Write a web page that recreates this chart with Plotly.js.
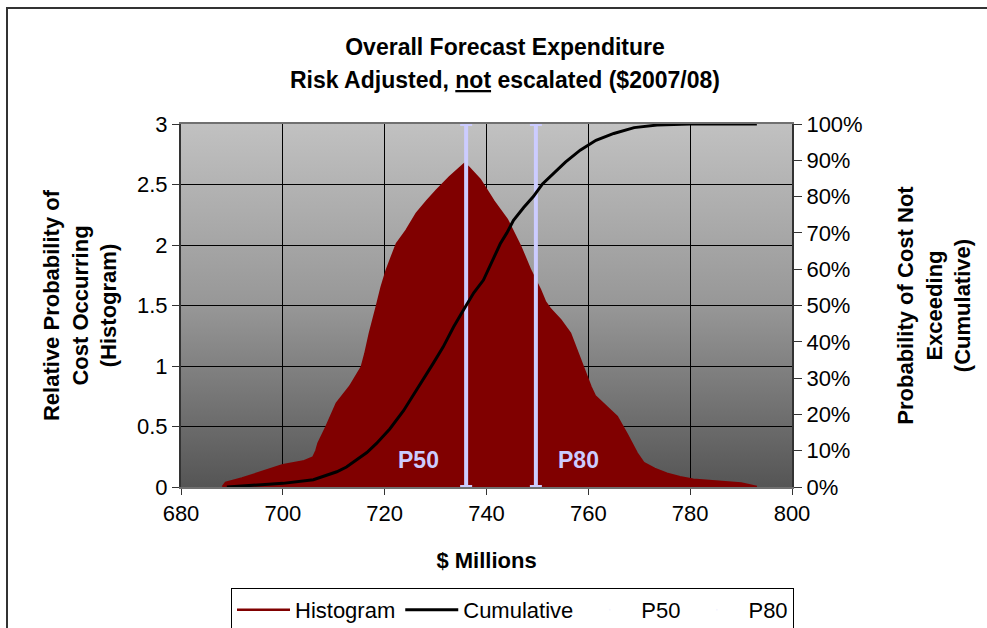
<!DOCTYPE html>
<html><head><meta charset="utf-8">
<script src="https://cdn.plot.ly/plotly-3.0.1.min.js"></script>
<style>html,body{margin:0;padding:0;background:#fff}#chart{width:987px;height:628px}</style>
</head><body><div id="chart"></div>
<script>
// Histogram ($ Millions vs relative probability)
const histX = [688.2,688.8,692,694.2,697.5,700,704,706,706.6,707,708.6,710.6,713.2,715.5,716.2,717.1,718.4,719.4,720.4,722.4,724.3,726.3,728.3,730.2,732.8,734.5,735.7,736.5,738.7,741.4,744.0,746.6,748.6,750.5,751.5,752.5,754.5,756.4,758.4,760.4,761.3,763.5,765.6,767.5,769.5,770.8,773,775.4,778,780.6,784,787.2,790,793.1];
const histY = [0,0.035,0.07,0.10,0.15,0.18,0.21,0.245,0.30,0.36,0.50,0.69,0.83,0.99,1.10,1.27,1.48,1.65,1.79,2.01,2.12,2.26,2.36,2.45,2.56,2.62,2.67,2.64,2.54,2.36,2.21,1.99,1.79,1.63,1.53,1.47,1.38,1.27,1.05,0.83,0.75,0.66,0.58,0.44,0.28,0.20,0.15,0.11,0.08,0.06,0.05,0.035,0.03,0];
// Cumulative probability
const cumX = [689,695,700,706,708,710.6,712.5,714.5,716.5,718.4,721,723.7,725.5,727.6,729.5,731.5,733.5,735.5,737.5,739.4,741,742.7,744,745.3,747.3,749.2,751,753.2,755.5,758.4,761.5,765,769,773.5,780,793.1];
const cumY = [0,0.005,0.01,0.02,0.03,0.042,0.055,0.074,0.095,0.12,0.16,0.21,0.25,0.295,0.34,0.386,0.44,0.488,0.535,0.57,0.62,0.67,0.70,0.735,0.77,0.80,0.835,0.864,0.895,0.928,0.955,0.974,0.99,0.997,1.0,1.0];
// Percentile markers
const pNames = ['P50','P80'];
const pValues = [736.0,749.7];
const pLabelX = [726.6,758.0];
const pLabelY = [0.22,0.22];
const xTicks = [680,700,720,740,760,780,800];

const font = 'Liberation Sans, Arial, sans-serif';
const lav = '#CCCCFF';

const svg = '<svg xmlns="http://www.w3.org/2000/svg" width="10" height="100" preserveAspectRatio="none"><defs><linearGradient id="g" x1="0" y1="0" x2="0" y2="1"><stop offset="0" stop-color="#C1C1C1"/><stop offset="0.5" stop-color="#979797"/><stop offset="1" stop-color="#555555"/></linearGradient></defs><rect width="10" height="100" fill="url(#g)"/></svg>';
const grad = 'data:image/svg+xml;charset=utf-8,' + encodeURIComponent(svg);

const traces = [
  {x: histX, y: histY, type:'scatter', mode:'lines', fill:'tozeroy', fillcolor:'#800000',
   line:{color:'#800000', width:0}, showlegend:false, hoverinfo:'skip'},
  {x: histX, y: histY, type:'scatter', mode:'lines', name:'Histogram',
   line:{color:'#800000', width:2.5}},
  {x: cumX, y: cumY, type:'scatter', mode:'lines', name:'Cumulative', yaxis:'y2',
   line:{color:'#000000', width:3}}
];
pNames.forEach((n,i)=>{
  traces.push({x:[pValues[i]], y:[0], type:'scatter', mode:'markers', name:n,
    marker:{size:1, opacity:0, color:lav},
    error_y:{type:'data', symmetric:false, array:[3], arrayminus:[0], color:lav, thickness:4, width:6}});
});

const annotations = pNames.map((n,i)=>({x:pLabelX[i], y:pLabelY[i], xref:'x', yref:'y', text:'<b>'+n+'</b>',
  showarrow:false, font:{family:font, size:23, color:lav}}));
annotations.push({x:(505-181)/611, y:(487-80)/363, xref:'paper', yref:'paper', xanchor:'center', yanchor:'middle', showarrow:false,
  text:'<b>Risk Adjusted, <u>not</u> escalated ($2007/08)</b>', font:{family:font, size:23, color:'#000'}});

const layout = {
  width:987, height:628,
  margin:{l:181, r:195, t:124, b:141, pad:0},
  paper_bgcolor:'#ffffff', plot_bgcolor:'#8c8c8c',
  font:{family:font, size:22, color:'#000'},
  title:{text:'<b>Overall Forecast Expenditure</b>', x:505/987, xanchor:'center', y:1-47/628, yanchor:'middle',
    yref:'container', font:{family:font, size:23, color:'#000'}},
  xaxis:{range:[680,800], tickvals:xTicks, ticks:'outside', ticklen:6, tickcolor:'#333', tickwidth:1,
    showgrid:true, gridcolor:'#000', gridwidth:1, zeroline:false,
    showline:true, linecolor:'#707070', linewidth:2, mirror:true,
    tickfont:{family:font, size:22},
    title:{text:'<b>$ Millions</b>', font:{family:font, size:22}, standoff:27}},
  yaxis:{range:[0,3], dtick:0.5, ticks:'outside', ticklen:7, tickcolor:'#333', tickwidth:1,
    showgrid:true, gridcolor:'#000', gridwidth:1, zeroline:false,
    showline:true, linecolor:'#333', linewidth:2,
    tickfont:{family:font, size:22},
    title:{text:'<b>Relative Probability of<br>Cost Occurring<br>(Histogram)</b>', font:{family:font, size:22}, standoff:14}},
  yaxis2:{range:[0,1], dtick:0.1, tickformat:'.0%', overlaying:'y', side:'right',
    ticks:'outside', ticklen:8, tickcolor:'#333', tickwidth:1, showgrid:false, zeroline:false,
    showline:true, linecolor:'#333', linewidth:2,
    tickfont:{family:font, size:22},
    title:{text:'<b>Probability of Cost Not<br>Exceeding<br>(Cumulative)</b>', font:{family:font, size:22}, standoff:36}},
  legend:{orientation:'h', xref:'container', yref:'container', x:231/987, y:1-588/628, xanchor:'left', yanchor:'top',
    bgcolor:'#fff', bordercolor:'#000', borderwidth:1, font:{family:font, size:22}, traceorder:'normal', itemwidth:53},
  images:[{source:grad, xref:'paper', yref:'paper', x:0, y:1, sizex:1, sizey:1, sizing:'stretch',
    xanchor:'left', yanchor:'top', layer:'below'}],
  shapes:[{type:'rect', xref:'paper', yref:'paper', x0:(7-181)/611, x1:(1000-181)/611, y0:(487-700)/363, y1:(487-8)/363,
    line:{color:'#333', width:2}, fillcolor:'rgba(0,0,0,0)', layer:'below'}],
  annotations: annotations,
  showlegend:true
};
Plotly.newPlot('chart', traces, layout, {displayModeBar:false, staticPlot:true});
</script></body></html>
